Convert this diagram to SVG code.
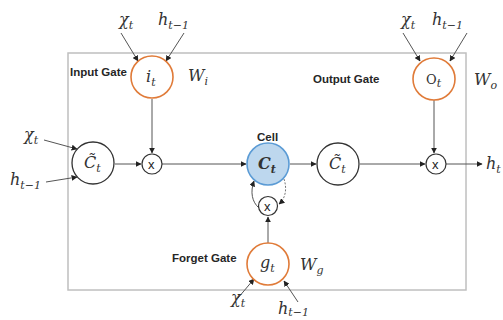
<svg xmlns="http://www.w3.org/2000/svg" width="503" height="320" viewBox="0 0 503 320">
<defs>
<marker id="ah" viewBox="0 0 10 10" refX="9" refY="5" markerWidth="6" markerHeight="6" orient="auto" markerUnits="userSpaceOnUse">
<path d="M0,0 L10,5 L0,10 z" fill="#222"/>
</marker>
</defs>
<style>
.box{fill:none;stroke:#bfbfbf;stroke-width:1.5}
.gate{fill:#fff;stroke:#e07b39;stroke-width:1.6}
.neu{fill:#fff;stroke:#333;stroke-width:1.3}
.cell{fill:#bdd7ee;stroke:#5b9bd5;stroke-width:1.6}
.mul{fill:#fff;stroke:#333;stroke-width:1.2}
.ln{fill:none;stroke:#555;stroke-width:1;marker-end:url(#ah)}
.dot{fill:none;stroke:#777;stroke-width:1;stroke-dasharray:2 1.5;marker-end:url(#ah)}
.lbl{font-family:"Liberation Sans",Arial,sans-serif;font-weight:bold;font-size:11.5px;fill:#262626}
.m{font-family:"DejaVu Serif","Liberation Serif",serif;font-style:italic;fill:#333}
.big{font-size:16px}
.sub{font-size:11px}
.x{font-family:"Liberation Sans",Arial,sans-serif;font-size:13px;fill:#222}
</style>
<rect class="box" x="68" y="53" width="398" height="237"/>
<g id="connectors">
<line class="ln" x1="121" y1="33" x2="138" y2="61"/>
<line class="ln" x1="184" y1="33" x2="166" y2="61"/>
<line class="ln" x1="403" y1="33" x2="420" y2="61"/>
<line class="ln" x1="467" y1="33" x2="450" y2="61"/>
<line class="ln" x1="44" y1="140" x2="77" y2="149"/>
<line class="ln" x1="46" y1="182" x2="77" y2="177"/>
<line class="ln" x1="152" y1="99" x2="152" y2="153"/>
<line class="ln" x1="115" y1="164" x2="141" y2="164"/>
<line class="ln" x1="162" y1="164" x2="246" y2="164"/>
<line class="ln" x1="290" y1="164" x2="316" y2="164"/>
<line class="ln" x1="360" y1="164" x2="425" y2="164"/>
<line class="ln" x1="434" y1="100" x2="434" y2="153"/>
<line class="ln" x1="446" y1="164" x2="482" y2="164"/>
<line class="ln" x1="268" y1="243" x2="268" y2="217"/>
<path class="ln" d="M259,208 C252,202 250,192 254,181"/>
<path class="dot" d="M284,179 C287,188 286,198 279,204"/>
<line class="ln" x1="238" y1="298" x2="254" y2="279"/>
<line class="ln" x1="298" y1="302" x2="284" y2="281"/>
</g>
<g id="input-gate">
<circle class="gate" cx="152" cy="77" r="21"/>
<text class="m big" x="146" y="82">i<tspan class="sub" dy="4">t</tspan></text>
<text class="lbl" x="70" y="76">Input Gate</text>
<text class="m big" x="188" y="81">W<tspan class="sub" dy="4">i</tspan></text>
<text class="m big" x="119" y="25">χ<tspan class="sub" dy="4">t</tspan></text>
<text class="m big" x="158" y="25">h<tspan class="sub" dy="4">t−1</tspan></text>
</g>
<g id="output-gate">
<circle class="gate" cx="434" cy="79" r="21"/>
<text x="426" y="84" style="font-family:'DejaVu Serif','Liberation Serif',serif;font-size:13px;fill:#333">O<tspan class="m sub" dy="3">t</tspan></text>
<text class="lbl" x="313" y="83">Output Gate</text>
<text class="m big" x="474" y="85">W<tspan class="sub" dy="4">o</tspan></text>
<text class="m big" x="401" y="25">χ<tspan class="sub" dy="4">t</tspan></text>
<text class="m big" x="432" y="25">h<tspan class="sub" dy="4">t−1</tspan></text>
</g>
<g id="candidate-in">
<circle class="neu" cx="93" cy="163" r="21"/>
<text class="m big" x="84" y="168">C̃<tspan class="sub" dy="4">t</tspan></text>
<text class="m big" x="24" y="140">χ<tspan class="sub" dy="4">t</tspan></text>
<text class="m big" x="10" y="185">h<tspan class="sub" dy="4">t−1</tspan></text>
</g>
<g id="mul-in">
<circle class="mul" cx="152" cy="164" r="10"/>
<text class="x" x="148" y="168.5">x</text>
</g>
<g id="cell">
<circle class="cell" cx="268" cy="164" r="21"/>
<text class="m big" x="258" y="169" style="font-weight:bold">C<tspan class="sub" dy="4">t</tspan></text>
<text class="lbl" x="257" y="141">Cell</text>
</g>
<g id="candidate-out">
<circle class="neu" cx="338" cy="164" r="21"/>
<text class="m big" x="329" y="169">C̃<tspan class="sub" dy="4">t</tspan></text>
</g>
<g id="mul-out">
<circle class="mul" cx="436" cy="164" r="10"/>
<text class="x" x="432" y="168.5">x</text>
<text class="m big" x="486" y="169">h<tspan class="sub" dy="4">t</tspan></text>
</g>
<g id="mul-forget">
<circle class="mul" cx="268" cy="206" r="9.5"/>
<text class="x" x="264" y="210.5">x</text>
</g>
<g id="forget-gate">
<circle class="gate" cx="268" cy="264" r="21"/>
<text class="m big" x="260" y="268">g<tspan class="sub" dy="4">t</tspan></text>
<text class="lbl" x="172" y="262">Forget Gate</text>
<text class="m big" x="300" y="270">W<tspan class="sub" dy="4">g</tspan></text>
<text class="m big" x="231" y="303">χ<tspan class="sub" dy="4">t</tspan></text>
<text class="m big" x="278" y="314">h<tspan class="sub" dy="2">t−1</tspan></text>
</g>
</svg>
